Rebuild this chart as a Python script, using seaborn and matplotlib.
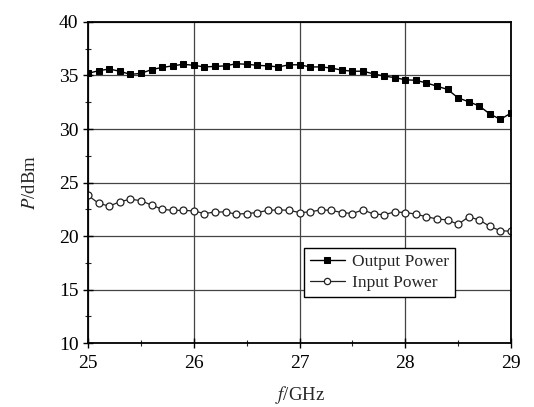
import numpy as np
import pandas as pd
import matplotlib
matplotlib.use("Agg")
import matplotlib.pyplot as plt
import seaborn as sns
from matplotlib.ticker import MultipleLocator

freq = [round(25.0 + 0.1 * i, 1) for i in range(41)]
output_power = [35.2, 35.45, 35.6, 35.4, 35.1, 35.2, 35.55, 35.75, 35.9, 36.05,
                35.95, 35.8, 35.85, 35.9, 36.1, 36.05, 35.95, 35.9, 35.8, 36.0,
                36.0, 35.8, 35.8, 35.7, 35.5, 35.4, 35.4, 35.15, 34.95, 34.8,
                34.6, 34.55, 34.3, 34.0, 33.7, 32.9, 32.55, 32.15, 31.4, 30.9, 31.5]
input_power = [23.8, 23.05, 22.8, 23.2, 23.45, 23.3, 22.9, 22.5, 22.4, 22.4,
               22.35, 22.1, 22.25, 22.25, 22.05, 22.1, 22.2, 22.4, 22.45, 22.4,
               22.2, 22.25, 22.45, 22.4, 22.2, 22.1, 22.45, 22.05, 22.0, 22.25,
               22.2, 22.05, 21.8, 21.6, 21.5, 21.1, 21.8, 21.5, 20.9, 20.5, 20.45]
series_names = ["Output Power", "Input Power"]

sns.set_style("ticks")
plt.rcParams["font.family"] = ["Liberation Serif", "DejaVu Serif"]
plt.rcParams["mathtext.fontset"] = "stix"

fig = plt.figure(figsize=(5.34, 4.07), dpi=100)
ax = fig.add_axes([0.165, 0.157, 0.792, 0.789])

df_out = pd.DataFrame({"f": freq, "P": output_power})
df_in = pd.DataFrame({"f": freq, "P": input_power})

sns.lineplot(data=df_out, x="f", y="P", ax=ax, color="black", lw=1.0,
             marker="s", markersize=4.5, markerfacecolor="black",
             markeredgecolor="black", label=series_names[0])
sns.lineplot(data=df_in, x="f", y="P", ax=ax, color="#222222", lw=0.9,
             marker="o", markersize=5, markerfacecolor="white",
             markeredgecolor="#222222", markeredgewidth=0.9, label=series_names[1])

ax.set_xlim(25, 29)
ax.set_ylim(10, 40)
ax.xaxis.set_major_locator(MultipleLocator(1))
ax.xaxis.set_minor_locator(MultipleLocator(0.5))
ax.yaxis.set_major_locator(MultipleLocator(5))
ax.yaxis.set_minor_locator(MultipleLocator(2.5))
ax.grid(True, which="major", color="#444444", lw=0.9)
ax.set_axisbelow(True)
ax.tick_params(which="major", direction="inout", length=7, width=1.0, labelsize=14, colors="black")
ax.tick_params(axis="x", which="major", pad=5)
ax.tick_params(which="minor", direction="inout", length=4, width=0.8)
for s in ax.spines.values():
    s.set_linewidth(1.3)
    s.set_color("black")

ax.set_xlabel(r"$\it{f}$/GHz", fontsize=13.5, labelpad=9)
ax.set_ylabel(r"$\it{P}$/dBm", fontsize=13.5, labelpad=14)

leg = ax.legend(loc="lower left", bbox_to_anchor=(0.49, 0.115), fontsize=12.5,
                frameon=True, fancybox=False, edgecolor="black", framealpha=1,
                handlelength=2.0, handletextpad=0.4, borderpad=0.35, labelspacing=0.3)
leg.get_frame().set_linewidth(1.0)
for h in leg.legend_handles:
    h.set_markersize(4.5)

fig.savefig("out.png", dpi=100)
